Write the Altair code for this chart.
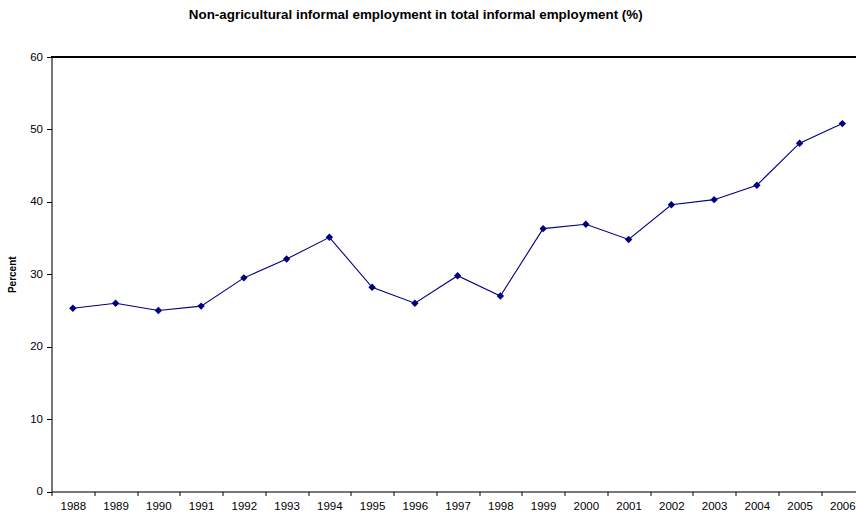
import altair as alt
import pandas as pd

years = [str(y) for y in range(1988, 2007)]
values = [25.3, 26.0, 25.0, 25.6, 29.5, 32.1, 35.1, 28.2, 26.0, 29.8,
          27.0, 36.3, 36.9, 34.8, 39.6, 40.3, 42.3, 48.1, 50.8]

df = pd.DataFrame({"year": years, "value": values})

NAVY = "#000080"
BAND = 42.75
W = 804.5
H = 434.5

x = alt.X(
    "year:N",
    sort=years,
    scale=alt.Scale(range=[0, BAND * len(years)], paddingInner=0, paddingOuter=0),
    axis=alt.Axis(
        title=None, labelAngle=0, tickBand="extent", tickSize=4,
        labelPadding=5, labelFontSize=11.5, labelColor="#000",
        domainColor="#000", tickColor="#000", labelFont="Liberation Sans",
    ),
)
y = alt.Y(
    "value:Q",
    scale=alt.Scale(domain=[0, 60], nice=False),
    axis=alt.Axis(
        title="Percent", values=[0, 10, 20, 30, 40, 50, 60], grid=False,
        tickSize=5, labelPadding=4, labelFontSize=11.5, labelColor="#000",
        domainColor="#000", tickColor="#000", labelFont="Liberation Sans",
        titleFont="Liberation Sans", titleFontSize=10, titleFontWeight="bold",
        titleColor="#000", titlePadding=12,
    ),
)

line = alt.Chart(df).mark_line(color=NAVY, strokeWidth=1.1).encode(x=x, y=y)
pts = alt.Chart(df).mark_point(
    shape="diamond", filled=True, color=NAVY, size=55, opacity=1
).encode(x=x, y=y)
top = alt.Chart(df).mark_rule(color="#000", strokeWidth=1).encode(y=alt.datum(60))

chart = (
    alt.layer(top, line, pts)
    .properties(
        width=W,
        height=H,
        autosize=alt.AutoSizeParams(type="none"),
        padding={"left": 51.5, "top": 57, "right": 0, "bottom": 21.5},
        title=alt.TitleParams(
            "Non-agricultural informal employment in total informal employment (%)",
            font="Liberation Sans", fontSize=13.4, fontWeight="bold", color="#000",
            anchor="middle", dx=-38, offset=30,
        ),
    )
    .configure_view(stroke=None)
    .configure(background="white")
)

chart.save("out.html", embed_options={"renderer": "svg", "actions": False})
